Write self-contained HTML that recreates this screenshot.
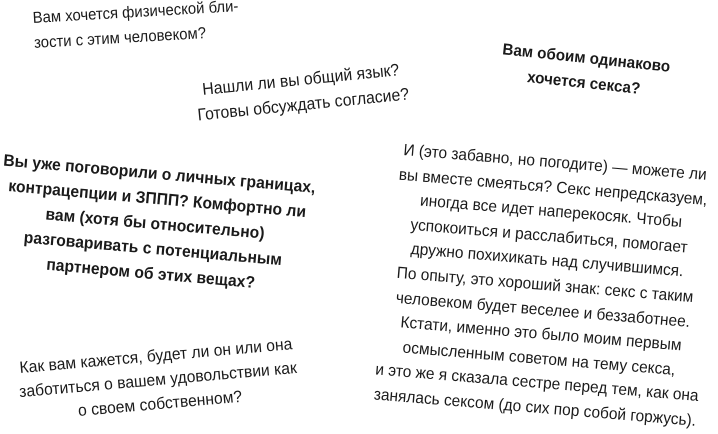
<!DOCTYPE html>
<html><head><meta charset="utf-8"><style>
html,body{margin:0;padding:0;background:#fff;}
body{width:718px;height:426px;position:relative;overflow:hidden;font-family:"Liberation Sans","DejaVu Sans",sans-serif;color:#1a1a1a;}
.b{position:absolute;white-space:nowrap;transform-origin:center center;}
</style></head><body>
<div class="b" style="left:32px;top:6px;width:240px;font-size:16px;line-height:25px;text-align:left;transform:rotate(-3.3deg) scaleX(0.93);transform-origin:left top;">Вам хочется физической бли-<br>зости с этим человеком?</div>
<div class="b" style="left:172px;top:67px;width:260px;font-size:17px;line-height:25px;text-align:center;transform:rotate(-5.7deg) scaleX(0.93);">Нашли ли вы общий язык?<br>Готовы обсуждать согласие?</div>
<div class="b" style="left:485px;top:46px;width:200px;font-size:16px;font-weight:bold;line-height:25px;text-align:center;transform:rotate(6deg) scaleX(0.95);">Вам обоим одинаково<br>хочется секса?</div>
<div class="b" style="left:-30px;top:162px;width:370px;font-size:16.5px;font-weight:bold;line-height:25px;text-align:center;transform:rotate(5deg) scaleX(0.95);">Вы уже поговорили о личных границах,<br>контрацепции и ЗППП? Комфортно ли<br>вам (хотя бы относительно)<br>разговаривать с потенциальным<br>партнером об этих вещах?</div>
<div class="b" style="left:-17px;top:344px;width:350px;font-size:16.5px;line-height:24px;text-align:center;transform:rotate(-5deg) scaleX(0.95);">Как вам кажется, будет ли он или она<br>заботиться о вашем удовольствии как<br>о своем собственном?</div>
<div class="b" style="left:365px;top:150px;width:360px;font-size:16.3px;line-height:24.6px;text-align:center;transform:rotate(4.7deg) scaleX(0.95);">И (это забавно, но погодите) — можете ли<br>вы вместе смеяться? Секс непредсказуем,<br>иногда все идет наперекосяк. Чтобы<br>успокоиться и расслабиться, помогает<br>дружно похихикать над случившимся.<br>По опыту, это хороший знак: секс с таким<br>человеком будет веселее и беззаботнее.<br>Кстати, именно это было моим первым<br>осмысленным советом на тему секса,<br>и это же я сказала сестре перед тем, как она<br>занялась сексом (до сих пор собой горжусь).</div>
</body></html>
